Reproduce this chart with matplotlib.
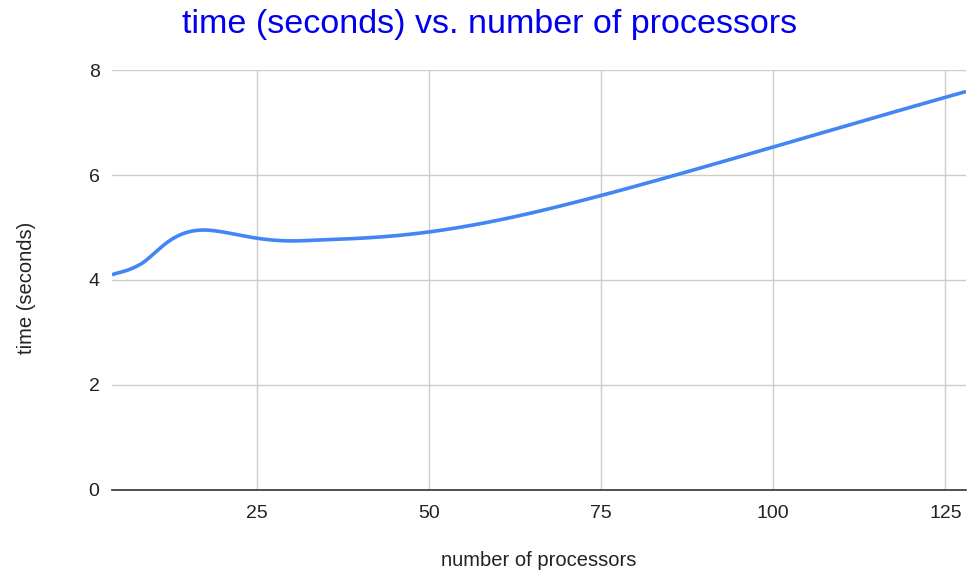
import numpy as np
import matplotlib
matplotlib.use("Agg")
import matplotlib.pyplot as plt

plt.rcParams["font.family"] = ["Liberation Sans", "DejaVu Sans"]

processors = [4, 8, 16, 32, 64, 128]
seconds = [4.10, 4.29, 4.94, 4.75, 5.25, 7.59]
x_ticks = [25, 50, 75, 100, 125]
y_ticks = [0, 2, 4, 6, 8]


def smooth(xs, ys, n=40):
    """Catmull-Rom through the points, like the sheet's smoothed line."""
    p = np.column_stack([xs, ys]).astype(float)
    p = np.vstack([2 * p[0] - p[1], p, 2 * p[-1] - p[-2]])
    out = []
    t = np.linspace(0, 1, n)[:, None]
    for i in range(1, len(p) - 2):
        p0, p1, p2, p3 = p[i - 1], p[i], p[i + 1], p[i + 2]
        seg = 0.5 * ((2 * p1) + (-p0 + p2) * t
                     + (2 * p0 - 5 * p1 + 4 * p2 - p3) * t ** 2
                     + (-p0 + 3 * p1 - 3 * p2 + p3) * t ** 3)
        out.append(seg)
    c = np.vstack(out)
    return c[:, 0], c[:, 1]


fig = plt.figure(figsize=(9.8, 5.73), dpi=100)
ax = fig.add_axes([0.1143, 0.1449, 0.8714, 0.7329])

sx, sy = smooth(processors, seconds)
ax.plot(sx, sy, color="#4285f4", linewidth=2.6, solid_capstyle="butt", zorder=3)

ax.set_xlim(processors[0], processors[-1])
ax.set_ylim(0, 8)
ax.set_xticks(x_ticks)
ax.set_yticks(y_ticks)
ax.grid(True, color="#cccccc", linewidth=1)
ax.set_axisbelow(True)
for s in ["top", "right", "left"]:
    ax.spines[s].set_visible(False)
ax.spines["bottom"].set_color("#333333")
ax.spines["bottom"].set_linewidth(1.2)
ax.tick_params(axis="x", length=0, labelsize=14, colors="#222222", pad=11)
ax.tick_params(axis="y", length=0, labelsize=14, colors="#222222", pad=9)

fig.text(0.5, 0.958, "time (seconds) vs. number of processors", ha="center",
         va="center", fontsize=24.5, color="#0000ee")
fig.text(0.55, 0.022, "number of processors", ha="center", va="center",
         fontsize=14.5, color="#222222")
fig.text(0.027, 0.497, "time (seconds)", ha="center", va="center",
         rotation=90, fontsize=14.5, color="#222222")

fig.savefig("out.png", dpi=100)
